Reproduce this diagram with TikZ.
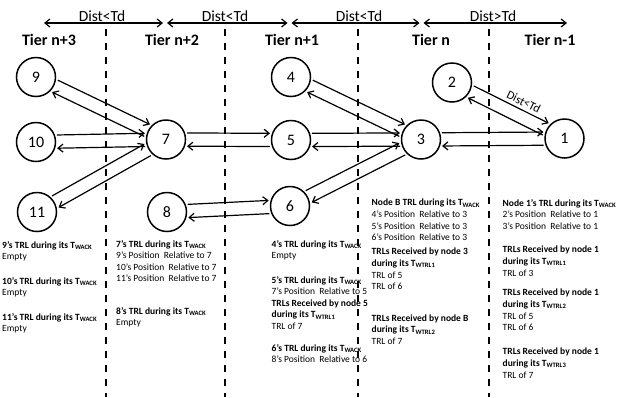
\documentclass[tikz,border=0pt]{standalone}
\usepackage{fontspec}
\setmainfont{Carlito}
\usetikzlibrary{arrows.meta,calc}
\newcommand\lowtag[1]{\textsubscript{#1}}
% two opposite arrows between two stations, one on each side of the centre line
\newcommand\twoway[2]{%
  \draw[link] ($(#1)!22pt!17.5:(#2)$) -- ($(#2)!22pt!-17.5:(#1)$);
  \draw[link] ($(#2)!22pt!17.5:(#1)$) -- ($(#1)!22pt!-17.5:(#2)$);
}
\begin{document}
\begin{tikzpicture}[x=1pt,y=-1pt,
  tier/.style={font=\fontsize{16}{18}\selectfont\bfseries},
  hop/.style={font=\fontsize{15.5}{17}\selectfont,inner sep=0pt},
  station/.style={circle,draw,line width=1.5pt,minimum size=39pt,inner sep=0pt,
    font=\fontsize{16}{18}\selectfont},
  link/.style={line width=1.2pt,-{Straight Barb[length=5pt,width=8pt]}},
  span/.style={line width=1.2pt,{Straight Barb[length=5pt,width=8pt]}-{Straight Barb[length=5pt,width=8pt]},
    shorten <=2pt,shorten >=2pt},
  divider/.style={line width=1.8pt,dash pattern=on 7pt off 7pt},
  info/.style={anchor=north west,inner sep=0pt,align=left,
    font=\fontsize{9.5}{11.6}\selectfont}
]
\useasboundingbox (0,0) rectangle (631,397);

% distance ranges between neighbouring tiers
\coordinate (s0) at (42,23);
\coordinate (s1) at (165,23);
\coordinate (s2) at (289.5,23);
\coordinate (s3) at (421.5,23);
\coordinate (s4) at (569,23);
\draw[span] (s0) -- (s1);
\draw[span] (s1) -- (s2);
\draw[span] (s2) -- (s3);
\draw[span] (s3) -- (s4);
\node[hop] (h1) at (102,16) {Dist<Td};
\node[hop] (h2) at (225,16) {Dist<Td};
\node[hop] (h3) at (359,16) {Dist<Td};
\node[hop] (h4) at (493,16) {Dist>Td};

% tier boundaries
\foreach \x in {106,225,358,489}
  \draw[divider] (\x,29) -- (\x,397);

% tier titles
\node[tier] (t3) at (49,40) {Tier n+3};
\node[tier] (t2) at (172,40) {Tier n+2};
\node[tier] (t1) at (292,40) {Tier n+1};
\node[tier] (t0) at (431,40) {Tier n};
\node[tier] (tm) at (550,40) {Tier n-1};

% stations
\node[station] (n9)  at (36,77)     {9};
\node[station] (n10) at (36,142)    {10};
\node[station] (n11) at (37,212)    {11};
\node[station] (n7)  at (166,139.5) {7};
\node[station] (n8)  at (167,212)   {8};
\node[station] (n4)  at (291,77)    {4};
\node[station] (n5)  at (291,140)   {5};
\node[station] (n6)  at (290,206)   {6};
\node[station] (n3)  at (421,139.5) {3};
\node[station] (n2)  at (452,82.5)  {2};
\node[station] (n1)  at (564.5,138.5) {1};

% links
\twoway{n9}{n7}
\twoway{n10}{n7}
\twoway{n11}{n7}
\twoway{n7}{n5}
\twoway{n8}{n6}
\twoway{n4}{n3}
\twoway{n5}{n3}
\twoway{n6}{n3}
\twoway{n3}{n1}
\twoway{n2}{n1}
\path ($(n2)!22pt!17.5:(n1)$) -- ($(n1)!22pt!-17.5:(n2)$)
  node[pos=0.62,sloped,above=3.5pt,inner sep=0pt,font=\fontsize{12}{14}\selectfont] (d21) {Dist<Td};

% tier n+3 lists
\node[info] (i9)  at (2,241) {\textbf{9’s TRL during its T\lowtag{WACK}}\\Empty};
\node[info] (i10) at (2,277) {\textbf{10’s TRL during its T\lowtag{WACK}}\\Empty};
\node[info] (i11) at (2,313) {\textbf{11’s TRL during its T\lowtag{WACK}}\\Empty};

% tier n+2 lists
\node[info] (i7) at (116,240) {\textbf{7’s TRL during its T\lowtag{WACK}}\\
  9’s Position~ Relative to 7\\10’s Position~ Relative to 7\\11’s Position~ Relative to 7};
\node[info] (i8) at (116,307) {\textbf{8’s TRL during its T\lowtag{WACK}}\\Empty};

% tier n+1 lists
\node[info] (i4) at (271.5,240) {\textbf{4’s TRL during its T\lowtag{WACK}}\\Empty};
\node[info] (i5) at (271.5,276) {\textbf{5’s TRL during its T\lowtag{WACK}}\\
  7’s Position~ Relative to 5\\\textbf{TRLs Received by node 5}\\
  \textbf{during its T\lowtag{WTRL1}}\\TRL of 7};
\node[info] (i6) at (271.5,344) {\textbf{6’s TRL during its T\lowtag{WACK}}\\
  8’s Position~ Relative to 6};

% tier n lists
\node[info] (i3a) at (371.5,199) {\textbf{Node B TRL during its T\lowtag{WACK}}\\
  4’s Position~ Relative to 3\\5’s Position~ Relative to 3\\6’s Position~ Relative to 3};
\node[info] (i3b) at (371.5,248) {\textbf{TRLs Received by node 3}\\
  \textbf{during its T\lowtag{WTRL1}}\\TRL of 5\\TRL of 6};
\node[info] (i3c) at (371.5,314.5) {\textbf{TRLs Received by node B}\\
  \textbf{during its T\lowtag{WTRL2}}\\TRL of 7};

% tier n-1 lists
\node[info] (i1a) at (502.5,199) {\textbf{Node 1’s TRL during its T\lowtag{WACK}}\\
  2’s Position~ Relative to 1\\3’s Position~ Relative to 1};
\node[info] (i1b) at (502.5,246) {\textbf{TRLs Received by node 1}\\
  \textbf{during its T\lowtag{WTRL1}}\\TRL of 3};
\node[info] (i1c) at (502.5,289) {\textbf{TRLs Received by node 1}\\
  \textbf{during its T\lowtag{WTRL2}}\\TRL of 5\\TRL of 6};
\node[info] (i1d) at (502.5,348) {\textbf{TRLs Received by node 1}\\
  \textbf{during its T\lowtag{WTRL3}}\\TRL of 7};
\end{tikzpicture}
\end{document}
